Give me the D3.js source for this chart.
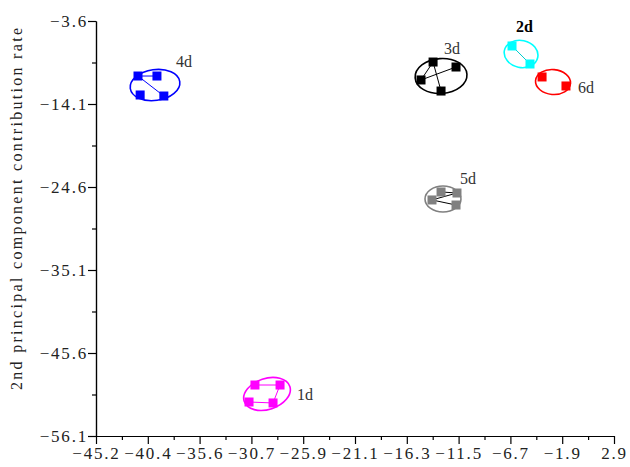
<!DOCTYPE html>
<html>
<head>
<meta charset="utf-8">
<script src="https://cdn.jsdelivr.net/npm/d3@7"></script>
<style>
  html, body { margin: 0; padding: 0; background: #fff; }
  svg { display: block; }
  .axis text { font-family: "Liberation Serif", "DejaVu Serif", serif; font-size: 17px; fill: #222; letter-spacing: 1.8px; }
  .axis path, .axis line { stroke: #000; stroke-width: 1.2; }
</style>
</head>
<body>
<svg id="chart" width="630" height="467"></svg>
<script>
// Sampling days (groups) and their PCA scores: PC1 on x, PC2 on y
const groupNames = ["1d", "2d", "3d", "4d", "5d", "6d"];
const pc1Scores = [
  [-30.44, -28.11, -30.99, -28.76],
  [-6.57, -4.90],
  [-13.90, -11.77, -15.02, -13.16],
  [-41.30, -39.54, -41.10, -38.90],
  [-14.00, -13.16, -11.68, -11.77],
  [-3.78, -1.56]
];
const pc2Scores = [
  [-49.65, -49.65, -51.80, -51.92],
  [-6.76, -9.04],
  [-8.79, -9.42, -11.06, -12.46],
  [-10.56, -10.56, -12.96, -13.09],
  [-26.24, -25.23, -25.36, -26.88],
  [-10.68, -11.82]
];
// Replicates joined by line segments (index pairs within a group)
const replicateLinks = [
  [[0, 1], [2, 3], [1, 3]],
  [[0, 1]],
  [[0, 2], [0, 3], [1, 2]],
  [[0, 1], [0, 3]],
  [[1, 2], [2, 0], [0, 3]],
  []
];
// Confidence ellipse per group: centre, semi-axes (data units), tilt (deg)
const ellipseCenterX = [-29.32, -5.73, -13.16, -39.72, -12.98, -2.76];
const ellipseCenterY = [-50.78, -7.77, -10.56, -11.70, -26.12, -11.32];
const ellipseRadiusX = [2.23, 1.58, 2.41, 2.32, 1.67, 1.63];
const ellipseRadiusY = [1.96, 1.71, 2.21, 1.95, 1.64, 1.58];
const ellipseTilt = [-18, 12, -4, -8, 0, 5];

const xTickValues = [-45.2, -40.39, -35.58, -30.77, -25.96, -21.15, -16.34, -11.53, -6.72, -1.91, 2.9];
const xTickLabels = ["-45.2", "-40.4", "-35.6", "-30.7", "-25.9", "-21.1", "-16.3", "-11.5", "-6.7", "-1.9", "2.9"];
const yTickValues = [-3.6, -14.1, -24.6, -35.1, -45.6, -56.1];
const yTickLabels = ["-3.6", "-14.1", "-24.6", "-35.1", "-45.6", "-56.1"];
const yTitle = "2nd principal component contribution rate";

// Styling
const groupColors = ["#ff00ff", "#00ffff", "#000000", "#0000ff", "#808080", "#ff0000"];
const linkColors = ["#ff00ff", "#00cccc", "#000000", "#0000ff", "#000000", "#ff0000"];
const labelOffsets = [[30, 6], [-5, -22], [3, -22], [21, -18], [17, -15], [25, 11]];
const labelColors = ["#333", "#000", "#333", "#333", "#333", "#333"];

const svg = d3.select("#chart");
const x = d3.scaleLinear().domain([-45.2, 2.9]).range([96, 614]);
const y = d3.scaleLinear().domain([-56.1, -3.6]).range([436, 21]);

const minus = s => s.replace("-", "\u2212");

// Minor ticks halfway between the labelled ones
const xMinor = d3.pairs(xTickValues).map(([a, b]) => (a + b) / 2);
const yMinor = d3.pairs(yTickValues).map(([a, b]) => (a + b) / 2);

svg.append("g").attr("class", "axis")
  .attr("transform", "translate(0,436)")
  .call(d3.axisBottom(x).tickValues(xMinor).tickSize(4).tickSizeOuter(0).tickFormat(""));
svg.append("g").attr("class", "axis")
  .attr("transform", "translate(96,0)")
  .call(d3.axisLeft(y).tickValues(yMinor).tickSize(4).tickSizeOuter(0).tickFormat(""));

const xAxis = svg.append("g").attr("class", "axis")
  .attr("transform", "translate(0,436)")
  .call(d3.axisBottom(x).tickValues(xTickValues).tickSize(8).tickSizeOuter(0)
    .tickFormat((d, i) => minus(xTickLabels[i])));
xAxis.selectAll("text").attr("y", 11);

const yAxis = svg.append("g").attr("class", "axis")
  .attr("transform", "translate(96,0)")
  .call(d3.axisLeft(y).tickValues(yTickValues).tickSize(8).tickSizeOuter(0)
    .tickFormat((d, i) => minus(yTickLabels[i])));
yAxis.selectAll("text").attr("x", -8);

svg.append("text")
  .attr("transform", "translate(22,209) rotate(-90)")
  .attr("text-anchor", "middle")
  .attr("textLength", 362)
  .attr("lengthAdjust", "spacing")
  .style("font-family", "'Liberation Serif', serif")
  .style("font-size", "16px")
  .style("fill", "#222")
  .text(yTitle);

// Groups: ellipse, replicate links, square markers, label
groupNames.forEach((name, g) => {
  const layer = svg.append("g");
  const cx = x(ellipseCenterX[g]), cy = y(ellipseCenterY[g]);
  const rx = x(ellipseCenterX[g] + ellipseRadiusX[g]) - cx;
  const ry = cy - y(ellipseCenterY[g] + ellipseRadiusY[g]);

  layer.append("ellipse")
    .attr("cx", cx).attr("cy", cy).attr("rx", rx).attr("ry", ry)
    .attr("transform", `rotate(${ellipseTilt[g]},${cx},${cy})`)
    .attr("fill", "none")
    .attr("stroke", groupColors[g])
    .attr("stroke-width", 1.6);

  const pts = pc1Scores[g].map((v, i) => [x(v), y(pc2Scores[g][i])]);

  layer.selectAll("line.link").data(replicateLinks[g]).join("line")
    .attr("class", "link")
    .attr("x1", d => pts[d[0]][0]).attr("y1", d => pts[d[0]][1])
    .attr("x2", d => pts[d[1]][0]).attr("y2", d => pts[d[1]][1])
    .attr("stroke", linkColors[g])
    .attr("stroke-width", 1);

  layer.selectAll("rect").data(pts).join("rect")
    .attr("x", d => d[0] - 4.5).attr("y", d => d[1] - 4.5)
    .attr("width", 9).attr("height", 9)
    .attr("fill", groupColors[g]);

  layer.append("text")
    .attr("x", cx + labelOffsets[g][0])
    .attr("y", cy + labelOffsets[g][1])
    .style("font-family", "'Liberation Serif', serif")
    .style("font-size", "16px")
    .style("font-weight", name === "2d" ? "bold" : "normal")
    .style("fill", labelColors[g])
    .text(name);
});
</script>
</body>
</html>
